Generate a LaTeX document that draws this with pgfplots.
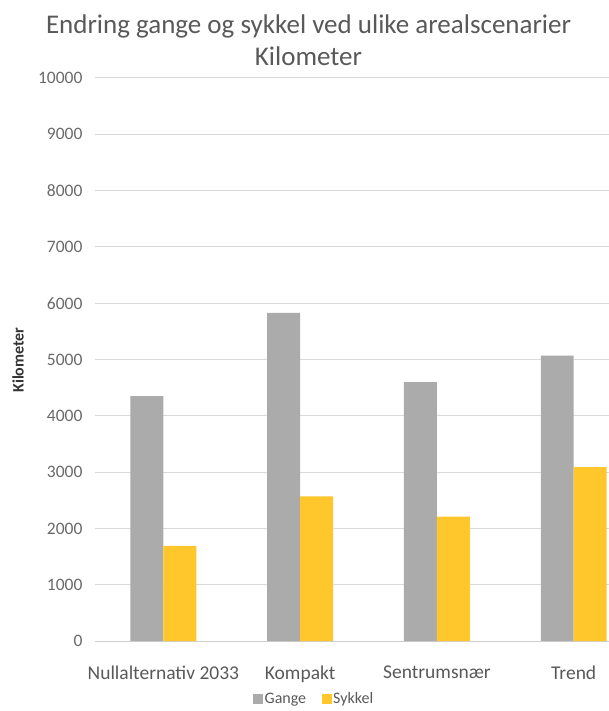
\documentclass[border=0pt]{standalone}
\usepackage{fontspec}
\setmainfont{Carlito}
\usepackage{pgfplots}
\pgfplotsset{compat=1.18}
\definecolor{gangegray}{HTML}{ABABAB}
\definecolor{sykkelgold}{HTML}{FFC72C}
\definecolor{gridgray}{HTML}{D9D9D9}
\definecolor{axisgray}{HTML}{CFCFCF}
\definecolor{txtgray}{HTML}{595959}
\begin{document}
\begin{tikzpicture}
\useasboundingbox (-95pt,-70pt) rectangle (514pt,641pt);
\begin{axis}[
  at={(0pt,0pt)}, anchor=south west,
  scale only axis, width=514pt, height=563pt,
  xmin=-0.5, xmax=3.258, ymin=0, ymax=10000,
  ytick={0,1000,...,10000},
  xtick={0,1,2,3},
  xticklabels={Nullalternativ 2033,Kompakt,Sentrumsnær,Trend},
  scaled y ticks=false,
  /pgf/number format/1000 sep={},
  /pgf/number format/assume math mode=true,
  ymajorgrids, grid style={gridgray, line width=1pt},
  major tick length=0pt,
  axis x line*=bottom, axis y line*=left,
  x axis line style={axisgray, line width=1pt},
  y axis line style={draw=none},
  yticklabel style={font=\fontsize{17.5}{21}\selectfont, text=txtgray!90, xshift=-9pt},
  xticklabel style={font=\fontsize{19.5}{23}\selectfont, text=txtgray, yshift=-21pt},
  clip=false,
  legend style={at={(0.426,-0.1030)}, anchor=center, draw=none, fill=none,
    legend columns=2, font=\fontsize{16}{19}\selectfont, text=txtgray,
    /tikz/every even column/.append style={column sep=14pt},
    nodes={inner sep=1.5pt}},
  legend image code/.code={\fill[#1] (0pt,-5pt) rectangle (10pt,5pt);},
]
\addplot[ybar, bar width=0.241, bar shift=-0.1205, fill=gangegray, draw=none]
  coordinates {(0,4350) (1,5830) (2,4600) (3,5070)};
\addlegendentry{Gange}
\addplot[ybar, bar width=0.241, bar shift=0.1205, fill=sykkelgold, draw=none]
  coordinates {(0,1690) (1,2570) (2,2210) (3,3090)};
\addlegendentry{Sykkel}
\end{axis}
\node[anchor=base, text=txtgray, font=\fontsize{27}{32}\selectfont] at (213.5pt,607pt) {Endring gange og sykkel ved ulike arealscenarier};
\node[anchor=base, text=txtgray, font=\fontsize{27}{32}\selectfont] at (213.5pt,575pt) {Kilometer};
\node[rotate=90, text=black!80, font=\bfseries\fontsize{16}{19}\selectfont] at (-77pt,281pt) {Kilometer};
\end{tikzpicture}
\end{document}
